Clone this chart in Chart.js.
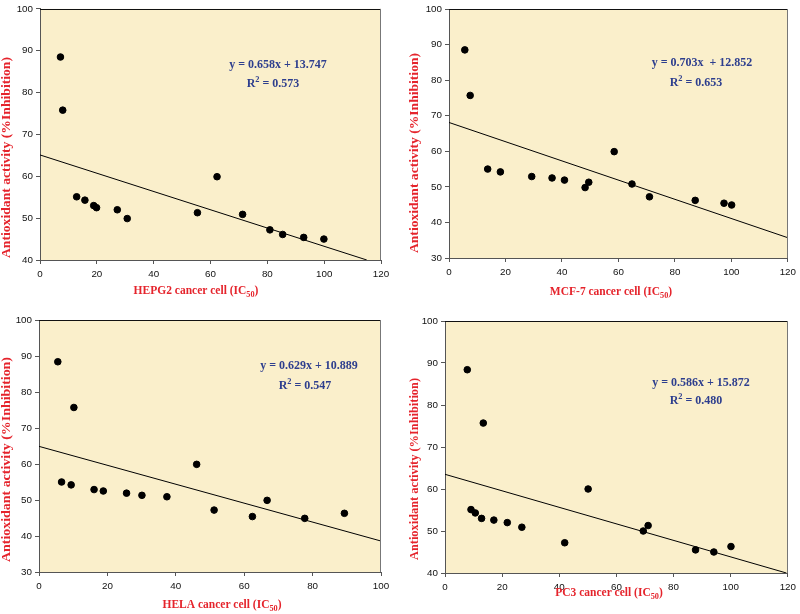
<!DOCTYPE html>
<html><head><meta charset="utf-8">
<script src="https://cdn.jsdelivr.net/npm/chart.js@4.4.1/dist/chart.umd.min.js"></script>
<style>
body{margin:0;background:#fff;width:800px;height:614px;position:relative;overflow:hidden}
canvas{position:absolute}
</style></head><body>
<canvas id="c1" width="400" height="300" style="left:0;top:0"></canvas>
<canvas id="c2" width="400" height="300" style="left:400px;top:0"></canvas>
<canvas id="c3" width="400" height="314" style="left:0;top:300px"></canvas>
<canvas id="c4" width="400" height="314" style="left:400px;top:300px"></canvas>
<script>
// ---- data ----
const hepg2X = [7.2, 8.0, 12.9, 15.8, 18.9, 19.9, 27.2, 30.7, 55.4, 62.3, 71.3, 80.9, 85.4, 92.8, 99.9];
const hepg2Y = [88.5, 75.8, 55.1, 54.3, 53.0, 52.5, 52.0, 49.9, 51.3, 59.9, 50.9, 47.2, 46.1, 45.4, 45.0];
const hepg2TrendX = [0, 115];
const hepg2TrendY = [65.1, 40];

const mcf7X = [5.6, 7.5, 13.7, 18.2, 29.3, 36.5, 40.9, 48.2, 49.5, 58.5, 64.8, 71.0, 87.2, 97.4, 100.1];
const mcf7Y = [88.5, 75.7, 55.0, 54.2, 52.9, 52.5, 51.9, 49.8, 51.3, 59.9, 50.8, 47.2, 46.2, 45.4, 44.9];
const mcf7TrendX = [0, 120];
const mcf7TrendY = [68.1, 35.7];

const helaX = [5.5, 10.2, 6.6, 9.4, 16.1, 18.8, 25.6, 30.1, 37.4, 46.1, 51.2, 62.4, 66.7, 77.7, 89.3];
const helaY = [88.4, 75.7, 55.0, 54.2, 52.9, 52.5, 51.9, 51.3, 50.9, 59.9, 47.2, 45.4, 49.9, 44.9, 46.3];
const helaTrendX = [0, 100];
const helaTrendY = [64.9, 38.6];

const pc3X = [7.8, 13.4, 9.1, 10.6, 12.8, 17.1, 21.8, 26.9, 41.9, 50.1, 69.4, 71.1, 87.7, 94.1, 100.1];
const pc3Y = [88.4, 75.7, 55.1, 54.3, 53.0, 52.6, 52.0, 50.9, 47.2, 60.0, 50.0, 51.3, 45.5, 45.0, 46.3];
const pc3TrendX = [0, 119.5];
const pc3TrendY = [63.5, 40];

const cellNames = ['HEPG2', 'MCF-7', 'HELA', 'PC3'];
const equations = ['y = 0.658x + 13.747', 'y = 0.703x  + 12.852', 'y = 0.629x + 10.889', 'y = 0.586x + 15.872'];
const r2Values = ['0.573', '0.653', '0.547', '0.480'];
const yTitle = 'Antioxidant activity (%Inhibition)';
const xRanges = [[0, 120], [0, 120], [0, 100], [0, 120]];
const yRanges = [[40, 100], [30, 100], [30, 100], [40, 100]];

// ---- styles ----
const BG = '#faefcb';
const RED = '#e5242c';
const BLUE = '#2d3e8e';
const SERIF = '"Liberation Serif", "Times New Roman", serif';

const annoPlugin = {
  id: 'anno',
  beforeDraw(chart, args, o) {
    const {ctx, chartArea: a} = chart;
    ctx.save();
    ctx.fillStyle = BG;
    ctx.fillRect(a.left, a.top, a.right - a.left, a.bottom - a.top);
    ctx.restore();
  },
  afterDraw(chart, args, o) {
    const {ctx, chartArea: a} = chart;
    ctx.save();
    // top & right border
    ctx.lineWidth = 1;
    ctx.strokeStyle = '#111';
    ctx.beginPath();
    ctx.moveTo(a.left, Math.round(a.top) + 0.5);
    ctx.lineTo(a.right, Math.round(a.top) + 0.5);
    ctx.stroke();
    ctx.strokeStyle = '#777';
    ctx.beginPath();
    ctx.moveTo(Math.round(a.right) - 0.5, a.top);
    ctx.lineTo(Math.round(a.right) - 0.5, a.bottom);
    ctx.stroke();

    // x title with subscript
    const fs = o.xSize;
    const main = o.cell + ' cancer cell (IC';
    ctx.fillStyle = RED;
    ctx.textBaseline = 'alphabetic';
    ctx.textAlign = 'left';
    const fMain = 'bold ' + fs + 'px ' + SERIF;
    const fSub = 'bold ' + (fs * 0.72) + 'px ' + SERIF;
    ctx.font = fMain;
    const w1 = ctx.measureText(main).width;
    const w3 = ctx.measureText(')').width;
    ctx.font = fSub;
    const w2 = ctx.measureText('50').width;
    let x = o.xt[0] - (w1 + w2 + w3) / 2;
    const by = o.xt[1] + fs * 0.35;
    ctx.font = fMain; ctx.fillText(main, x, by); x += w1;
    ctx.font = fSub; ctx.fillText('50', x, by + fs * 0.25); x += w2;
    ctx.font = fMain; ctx.fillText(')', x, by);

    // y title rotated, stretched along its length
    ctx.save();
    ctx.translate(o.yt[0], o.yt[1]);
    ctx.rotate(-Math.PI / 2);
    ctx.font = 'bold 11.8px ' + SERIF;
    const tw = ctx.measureText(yTitle).width;
    ctx.scale(o.yLen / tw, 1);
    ctx.textAlign = 'center';
    ctx.textBaseline = 'middle';
    ctx.fillText(yTitle, 0, 0);
    ctx.restore();

    // equation
    const ef = o.eqSize;
    ctx.fillStyle = BLUE;
    ctx.font = 'bold ' + ef + 'px ' + SERIF;
    ctx.textAlign = 'center';
    ctx.textBaseline = 'middle';
    ctx.fillText(o.eq, o.eqPos[0], o.eqPos[1]);
    // R^2 line
    ctx.textAlign = 'left';
    ctx.textBaseline = 'alphabetic';
    const eF = 'bold ' + ef + 'px ' + SERIF;
    const eS = 'bold ' + (ef * 0.7) + 'px ' + SERIF;
    ctx.font = eF;
    const a1 = ctx.measureText('R').width;
    const rest = ' = ' + o.r2;
    const a3 = ctx.measureText(rest).width;
    ctx.font = eS;
    const a2 = ctx.measureText('2').width;
    let rx = o.r2Pos[0] - (a1 + a2 + a3) / 2;
    const ry = o.r2Pos[1] + ef * 0.35;
    ctx.font = eF; ctx.fillText('R', rx, ry); rx += a1;
    ctx.font = eS; ctx.fillText('2', rx, ry - ef * 0.4); rx += a2;
    ctx.font = eF; ctx.fillText(rest, rx, ry);
    ctx.restore();
  }
};

function makeChart(id, xs, ys, tx, ty, idx, lay) {
  const pts = xs.map((v, i) => ({x: v, y: ys[i]}));
  const trend = tx.map((v, i) => ({x: v, y: ty[i]}));
  const tickFont = {family: '"Liberation Sans", Arial, sans-serif', size: 9.8};
  return new Chart(document.getElementById(id), {
    type: 'scatter',
    data: {
      datasets: [
        {data: pts, backgroundColor: '#000', borderColor: '#000', pointRadius: 3.3, pointHoverRadius: 3.3, order: 0},
        {data: trend, showLine: true, borderColor: '#000', borderWidth: 1, pointRadius: 0, fill: false, order: 1}
      ]
    },
    options: {
      responsive: false,
      animation: false,
      events: [],
      layout: {padding: {top: lay.top, right: lay.right, left: 0, bottom: 0}},
      plugins: {
        legend: {display: false},
        tooltip: {enabled: false},
        anno: {
          cell: cellNames[idx], eq: equations[idx], r2: r2Values[idx],
          xt: lay.xt, yt: lay.yt, eqPos: lay.eq, r2Pos: lay.r2,
          xSize: lay.xs, yLen: lay.yl, eqSize: 12
        }
      },
      scales: {
        x: {
          type: 'linear', min: xRanges[idx][0], max: xRanges[idx][1],
          ticks: {stepSize: 20, color: '#111', font: tickFont, padding: 4, maxRotation: 0},
          grid: {display: true, drawOnChartArea: false, drawTicks: true, tickLength: 4, tickColor: '#555'},
          border: {display: true, color: '#555', width: 1},
          afterFit: s => { s.height = lay.xh; }
        },
        y: {
          type: 'linear', min: yRanges[idx][0], max: yRanges[idx][1],
          ticks: {stepSize: 10, color: '#111', font: tickFont, padding: 3},
          grid: {display: true, drawOnChartArea: false, drawTicks: true, tickLength: 4, tickColor: '#555'},
          border: {display: true, color: '#555', width: 1},
          afterFit: s => { s.width = lay.yw; }
        }
      }
    },
    plugins: [annoPlugin]
  });
}

makeChart('c1', hepg2X, hepg2Y, hepg2TrendX, hepg2TrendY, 0,
  {top: 6, right: 19, yw: 40, xh: 40, xt: [196, 290], yt: [7, 157.5], eq: [278, 65], r2: [273, 83], xs: 11.5, yl: 201});
makeChart('c2', mcf7X, mcf7Y, mcf7TrendX, mcf7TrendY, 1,
  {top: 9, right: 10, yw: 49, xh: 42, xt: [211, 291], yt: [15, 153], eq: [302, 63], r2: [296, 82], xs: 11.5, yl: 200});
makeChart('c3', helaX, helaY, helaTrendX, helaTrendY, 2,
  {top: 20, right: 19, yw: 39, xh: 42, xt: [222, 304], yt: [7, 159.5], eq: [309, 66], r2: [305, 85], xs: 11.5, yl: 205});
makeChart('c4', pc3X, pc3Y, pc3TrendX, pc3TrendY, 3,
  {top: 21, right: 12, yw: 45, xh: 41, xt: [209, 292], yt: [15, 169], eq: [301, 83], r2: [296, 100], xs: 11.5, yl: 182});
</script>
</body></html>
